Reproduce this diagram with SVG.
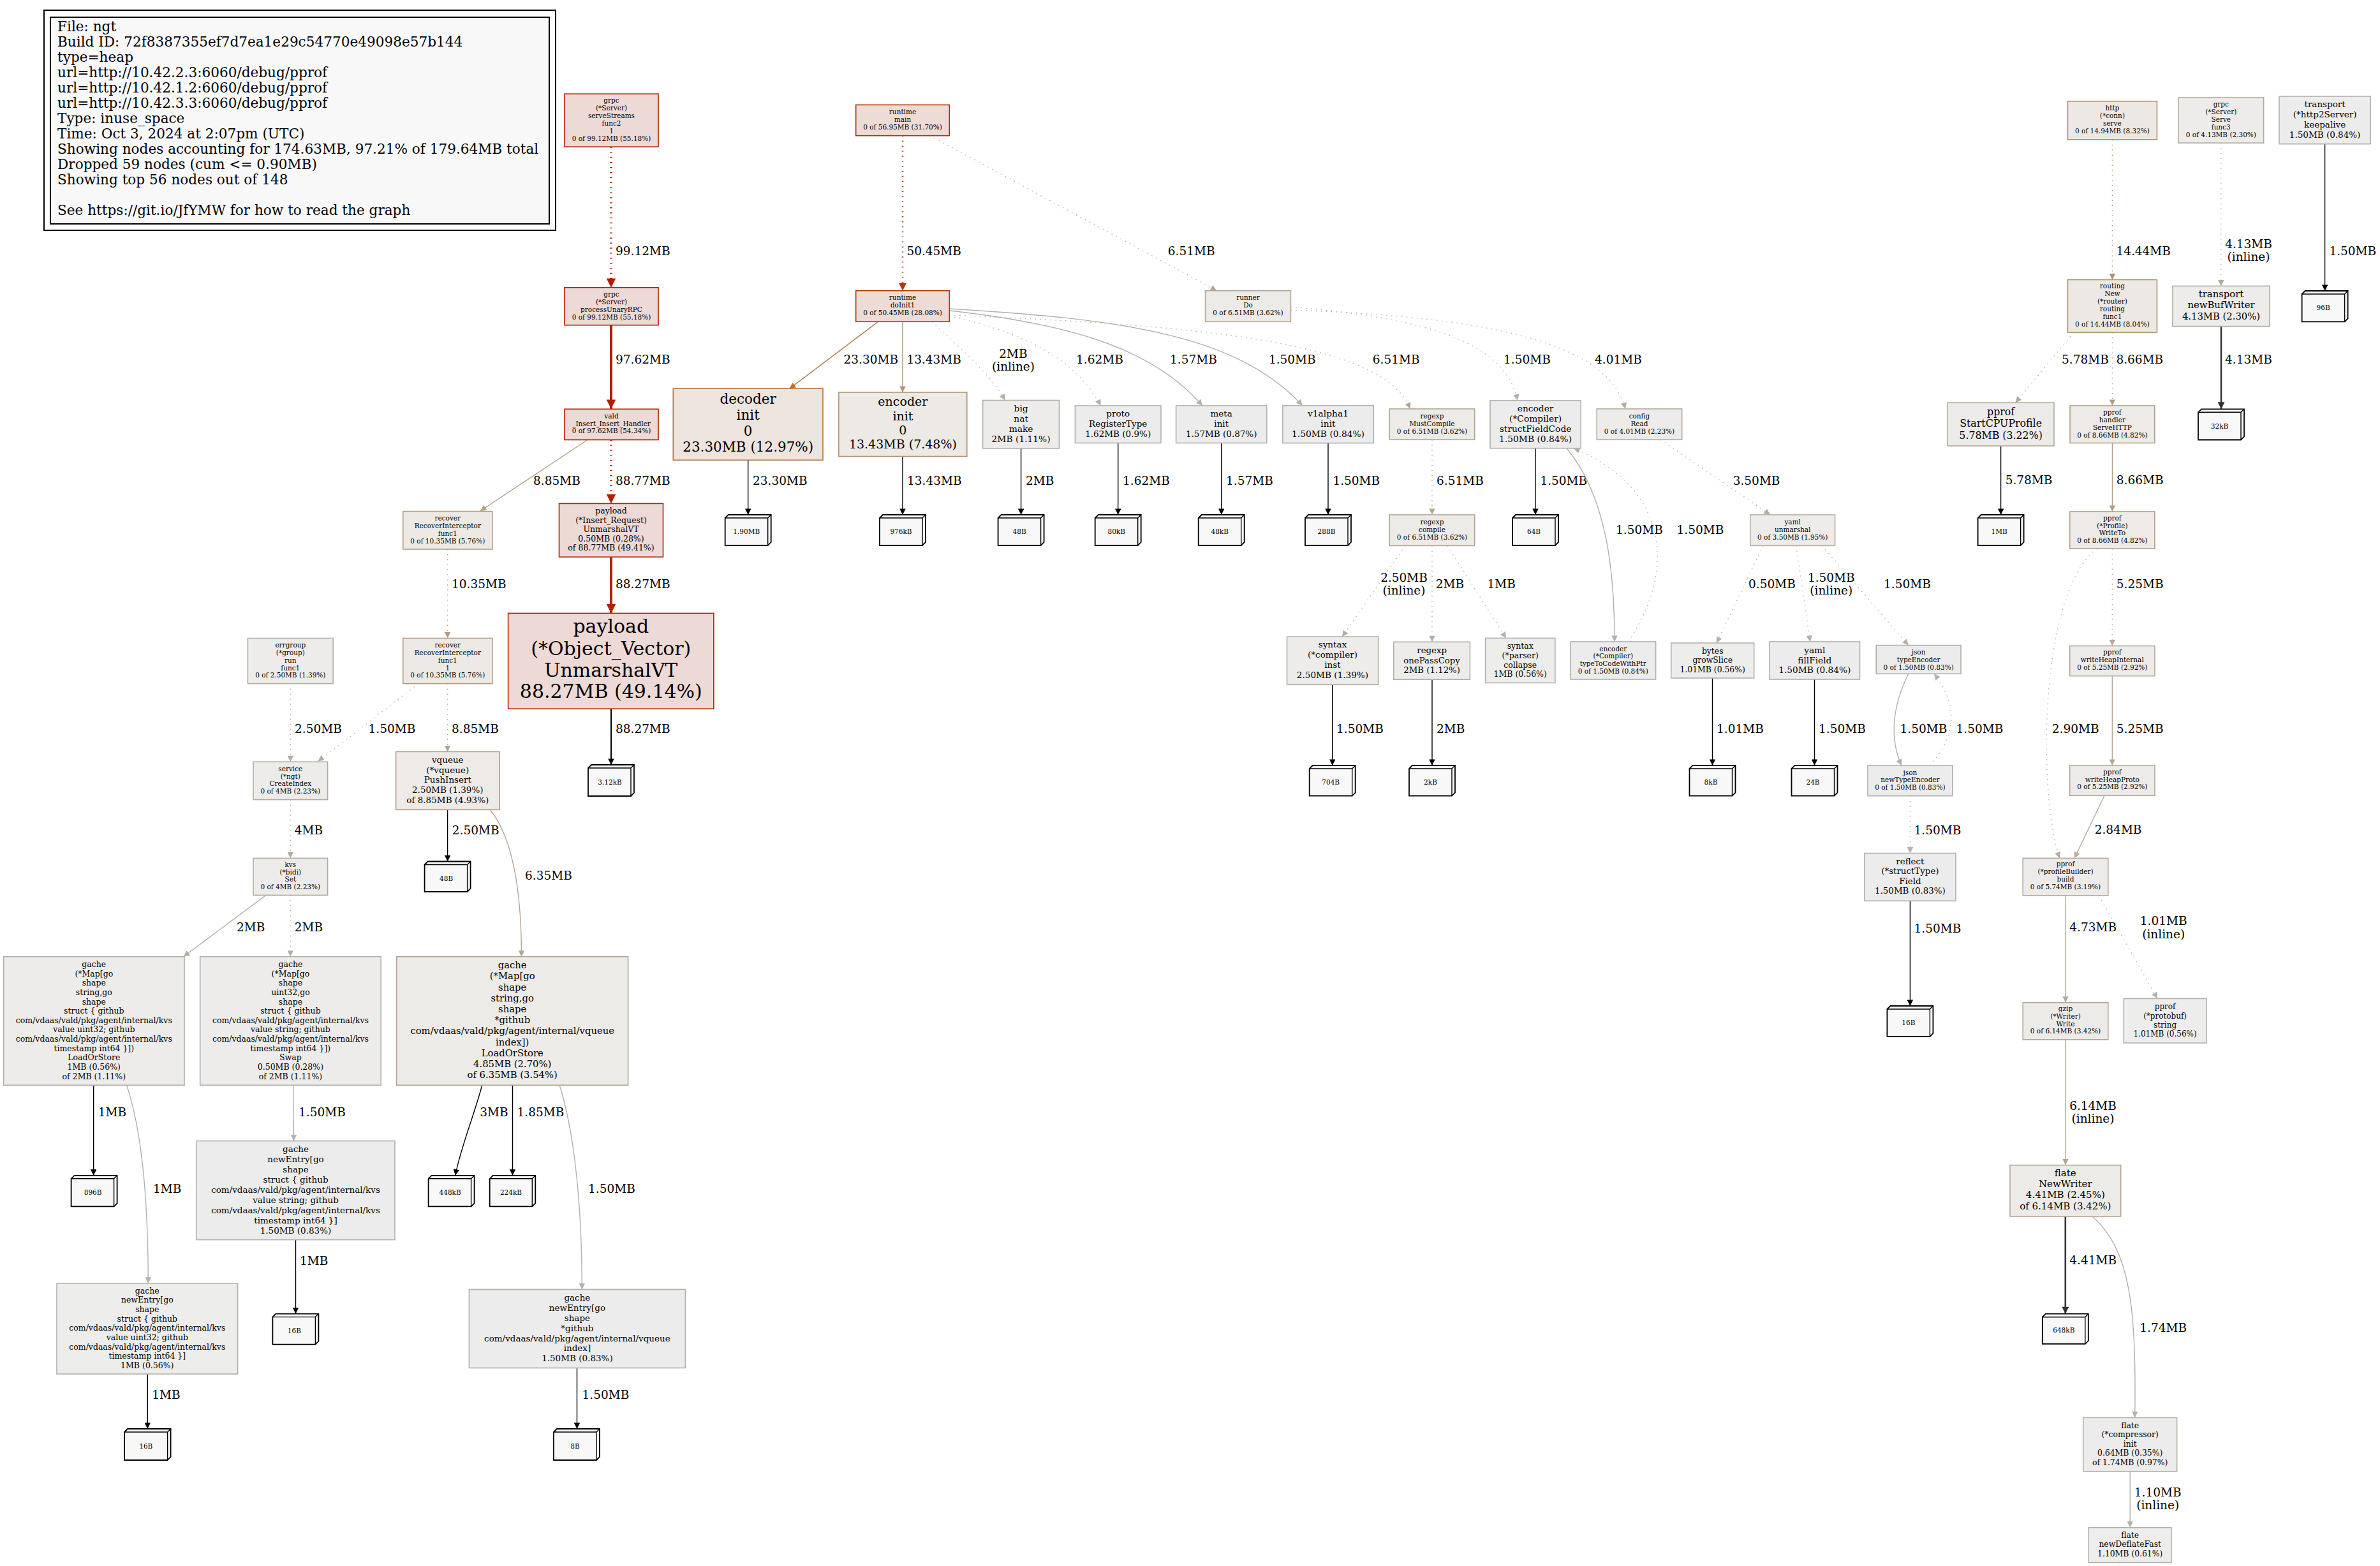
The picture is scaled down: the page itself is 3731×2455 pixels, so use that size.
<svg xmlns="http://www.w3.org/2000/svg" width="3731" height="2455" viewBox="0 0 3731 2455">
<style>
text{font-family:'DejaVu Serif','Liberation Serif',serif;fill:#000}
.node text{text-anchor:middle}
.node rect{stroke-width:1.6}
.lg{font-size:21.6px}
.s{font-size:10.5px}
.el{font-size:18.5px}
.elc{font-size:18.5px;text-anchor:middle}
.edges path{fill:none;stroke-width:1.4}
.d{stroke-dasharray:1.4 6.5}
.b3 polygon{fill:#f8f8f8;stroke:#000;stroke-width:1.8}
.b3 path{fill:none;stroke:#000;stroke-width:1.4}
.b3 text{font-size:10.5px;text-anchor:middle}
.edges .r1{stroke:#b21d00;marker-end:url(#a-r1)}
.edges .r2{stroke:#b22200;marker-end:url(#a-r2)}
.edges .or{stroke:#b23800;marker-end:url(#a-or)}
.edges .dc{stroke:#b2733e;marker-end:url(#a-dc)}
.edges .en{stroke:#b2936f;marker-end:url(#a-en)}
.edges .t1{stroke:#b2906a;marker-end:url(#a-t1)}
.edges .t2{stroke:#b29c7f;marker-end:url(#a-t2)}
.edges .t3{stroke:#b2a086;marker-end:url(#a-t3)}
.edges .t4{stroke:#b2a794;marker-end:url(#a-t4)}
.edges .t5{stroke:#b2a998;marker-end:url(#a-t5)}
.edges .t6{stroke:#b2ab9d;marker-end:url(#a-t6)}
.edges .t7{stroke:#b2ac9e;marker-end:url(#a-t7)}
.edges .g1{stroke:#b2aea4;marker-end:url(#a-g1)}
.edges .g2{stroke:#b2b0ab;marker-end:url(#a-g2)}
.edges .g3{stroke:#b2b1ad;marker-end:url(#a-g3)}
.edges .bk{stroke:#000;marker-end:url(#a-bk)}
.edges .dk{stroke:#333;stroke-width:2.6;marker-end:url(#a-dk)}
.edges .w4{stroke-width:4}
.edges .w3{stroke-width:2.6}
.edges .w2{stroke-width:2}
</style>
<defs>
<marker id="a-r1" viewBox="0 0 10 10" refX="10" refY="5" markerUnits="userSpaceOnUse" markerWidth="17" markerHeight="14.5" orient="auto"><path d="M0,0L10,5L0,10z" fill="#b21d00"/></marker>
<marker id="a-r2" viewBox="0 0 10 10" refX="10" refY="5" markerUnits="userSpaceOnUse" markerWidth="17" markerHeight="14.5" orient="auto"><path d="M0,0L10,5L0,10z" fill="#b22200"/></marker>
<marker id="a-or" viewBox="0 0 10 10" refX="10" refY="5" markerUnits="userSpaceOnUse" markerWidth="15" markerHeight="12" orient="auto"><path d="M0,0L10,5L0,10z" fill="#b23800"/></marker>
<marker id="a-dc" viewBox="0 0 10 10" refX="10" refY="5" markerUnits="userSpaceOnUse" markerWidth="13" markerHeight="9.5" orient="auto"><path d="M0,0L10,5L0,10z" fill="#b2733e"/></marker>
<marker id="a-en" viewBox="0 0 10 10" refX="10" refY="5" markerUnits="userSpaceOnUse" markerWidth="13" markerHeight="9.5" orient="auto"><path d="M0,0L10,5L0,10z" fill="#b2936f"/></marker>
<marker id="a-t1" viewBox="0 0 10 10" refX="10" refY="5" markerUnits="userSpaceOnUse" markerWidth="13" markerHeight="9.5" orient="auto"><path d="M0,0L10,5L0,10z" fill="#b2906a"/></marker>
<marker id="a-t2" viewBox="0 0 10 10" refX="10" refY="5" markerUnits="userSpaceOnUse" markerWidth="13" markerHeight="9.5" orient="auto"><path d="M0,0L10,5L0,10z" fill="#b29c7f"/></marker>
<marker id="a-t3" viewBox="0 0 10 10" refX="10" refY="5" markerUnits="userSpaceOnUse" markerWidth="13" markerHeight="9.5" orient="auto"><path d="M0,0L10,5L0,10z" fill="#b2a086"/></marker>
<marker id="a-t4" viewBox="0 0 10 10" refX="10" refY="5" markerUnits="userSpaceOnUse" markerWidth="13" markerHeight="9.5" orient="auto"><path d="M0,0L10,5L0,10z" fill="#b2a794"/></marker>
<marker id="a-t5" viewBox="0 0 10 10" refX="10" refY="5" markerUnits="userSpaceOnUse" markerWidth="13" markerHeight="9.5" orient="auto"><path d="M0,0L10,5L0,10z" fill="#b2a998"/></marker>
<marker id="a-t6" viewBox="0 0 10 10" refX="10" refY="5" markerUnits="userSpaceOnUse" markerWidth="13" markerHeight="9.5" orient="auto"><path d="M0,0L10,5L0,10z" fill="#b2ab9d"/></marker>
<marker id="a-t7" viewBox="0 0 10 10" refX="10" refY="5" markerUnits="userSpaceOnUse" markerWidth="13" markerHeight="9.5" orient="auto"><path d="M0,0L10,5L0,10z" fill="#b2ac9e"/></marker>
<marker id="a-g1" viewBox="0 0 10 10" refX="10" refY="5" markerUnits="userSpaceOnUse" markerWidth="13" markerHeight="9.5" orient="auto"><path d="M0,0L10,5L0,10z" fill="#b2aea4"/></marker>
<marker id="a-g2" viewBox="0 0 10 10" refX="10" refY="5" markerUnits="userSpaceOnUse" markerWidth="13" markerHeight="9.5" orient="auto"><path d="M0,0L10,5L0,10z" fill="#b2b0ab"/></marker>
<marker id="a-g3" viewBox="0 0 10 10" refX="10" refY="5" markerUnits="userSpaceOnUse" markerWidth="13" markerHeight="9.5" orient="auto"><path d="M0,0L10,5L0,10z" fill="#b2b1ad"/></marker>
<marker id="a-bk" viewBox="0 0 10 10" refX="10" refY="5" markerUnits="userSpaceOnUse" markerWidth="13" markerHeight="9.5" orient="auto"><path d="M0,0L10,5L0,10z" fill="#000"/></marker>
<marker id="a-dk" viewBox="0 0 10 10" refX="10" refY="5" markerUnits="userSpaceOnUse" markerWidth="15" markerHeight="11" orient="auto"><path d="M0,0L10,5L0,10z" fill="#333"/></marker>
</defs>
<rect width="3731" height="2455" fill="#fff"/>

<g id="legend">
<rect x="69" y="16" width="802" height="345" fill="none" stroke="#000" stroke-width="2"/>
<rect x="79" y="27" width="782" height="324" fill="#f8f8f8" stroke="#000" stroke-width="2"/>
<text class="lg" x="90"><tspan x="90" y="49">File: ngt</tspan><tspan x="90" y="73">Build ID: 72f8387355ef7d7ea1e29c54770e49098e57b144</tspan><tspan x="90" y="97">type=heap</tspan><tspan x="90" y="121">url=http://10.42.2.3:6060/debug/pprof</tspan><tspan x="90" y="145">url=http://10.42.1.2:6060/debug/pprof</tspan><tspan x="90" y="169">url=http://10.42.3.3:6060/debug/pprof</tspan><tspan x="90" y="193">Type: inuse_space</tspan><tspan x="90" y="217">Time: Oct 3, 2024 at 2:07pm (UTC)</tspan><tspan x="90" y="241">Showing nodes accounting for 174.63MB, 97.21% of 179.64MB total</tspan><tspan x="90" y="265">Dropped 59 nodes (cum &lt;= 0.90MB)</tspan><tspan x="90" y="289">Showing top 56 nodes out of 148</tspan><tspan x="90" y="337">See https://git.io/JfYMW for how to read the graph</tspan></text>
</g>

<g id="edges" class="edges">
<path class="r1 w4 d" d="M958,230.3L958,451"/>
<text class="el" x="965" y="399.5">99.12MB</text>
<path class="r1 w4" d="M958,509.6L958,641"/>
<text class="el" x="965" y="570">97.62MB</text>
<path class="t3" d="M921,689.5L753,801"/>
<text class="el" x="836" y="759.5">8.85MB</text>
<path class="r2 w4 d" d="M958,689.5L958,789.4"/>
<text class="el" x="965" y="759.5">88.77MB</text>
<path class="r2 w4" d="M958,873.2L958,961.4"/>
<text class="el" x="965" y="922">88.27MB</text>
<path class="bk w2" d="M958,1111.2L958,1199"/>
<text class="el" x="965" y="1149.4">88.27MB</text>
<path class="t2 d" d="M701.6,861L701.6,1000.5"/>
<text class="el" x="708" y="922">10.35MB</text>
<path class="g1 d" d="M455.3,1071.7L455.3,1194.3"/>
<text class="el" x="462" y="1149.4">2.50MB</text>
<path class="g2 d" d="M656,1071.7L498.5,1193.5"/>
<text class="el" x="577.5" y="1149.4">1.50MB</text>
<path class="t3 d" d="M701.6,1071.7L701.6,1178.4"/>
<text class="el" x="708" y="1149.4">8.85MB</text>
<path class="bk" d="M701.6,1269.4L701.6,1350.5"/>
<text class="el" x="708.8" y="1308">2.50MB</text>
<path class="t4" d="M768.4,1269.5C805,1315 817.5,1400 817.5,1499.7"/>
<text class="el" x="823" y="1379">6.35MB</text>
<path class="t7 d" d="M455.3,1253.6L455.3,1345.4"/>
<text class="el" x="461.8" y="1308">4MB</text>
<path class="g1" d="M416.8,1403.4L287.7,1499.7"/>
<text class="el" x="371" y="1460">2MB</text>
<path class="g1 d" d="M455.3,1403.4L455.3,1499.7"/>
<text class="el" x="461.8" y="1460">2MB</text>
<path class="bk" d="M146.7,1701.2L146.7,1842.8"/>
<text class="el" x="153.7" y="1749.8">1MB</text>
<path class="g3" d="M198.6,1701.2C225,1780 232.3,1900 232.3,2011.8"/>
<text class="el" x="240" y="1870.4">1MB</text>
<path class="g2" d="M459.6,1701.2L460.5,1788.6"/>
<text class="el" x="468" y="1749.8">1.50MB</text>
<path class="bk" d="M463.5,1943.6L463.5,2059.6"/>
<text class="el" x="470" y="1982.5">1MB</text>
<path class="bk" d="M755.8,1701.2C742,1752 722,1800 713.7,1842.8"/>
<text class="el" x="752.3" y="1749.8">3MB</text>
<path class="bk" d="M803.5,1701.2L803.5,1842.8"/>
<text class="el" x="810.5" y="1749.8">1.85MB</text>
<path class="g2" d="M877.2,1701.2C902,1780 912.3,1900 912.3,2021.4"/>
<text class="el" x="922" y="1870.4">1.50MB</text>
<path class="bk" d="M231.3,2154L231.3,2240"/>
<text class="el" x="238.3" y="2193">1MB</text>
<path class="bk" d="M904.5,2144.5L904.5,2240"/>
<text class="el" x="912.6" y="2193">1.50MB</text>
<path class="or w3 d" d="M1415,212.7L1415,455.7"/>
<text class="el" x="1421.4" y="399.8">50.45MB</text>
<path class="t4 d" d="M1457.7,212.7L1907.3,455.7"/>
<text class="el" x="1830.8" y="399.8">6.51MB</text>
<path class="dc" d="M1376.7,504.3L1237.7,609.2"/>
<text class="el" x="1322.5" y="570">23.30MB</text>
<path class="en" d="M1415,504.3L1415,615"/>
<text class="el" x="1421.4" y="570">13.43MB</text>
<path class="g1 d" d="M1461,504.3C1505,545 1555,590 1575.7,627.5"/>
<text class="elc" x="1588.5" y="560.5">2MB</text>
<text class="elc" x="1588.5" y="580.5">(inline)</text>
<path class="g2 d" d="M1488.3,495.5C1600,520 1685,560 1725.6,636"/>
<text class="el" x="1687" y="570">1.62MB</text>
<path class="g2" d="M1488.3,487C1700,510 1815,555 1885,636"/>
<text class="el" x="1834" y="570">1.57MB</text>
<path class="g2" d="M1488.3,484C1760,500 1940,525 2041.7,635.7"/>
<text class="el" x="1988.9" y="570">1.50MB</text>
<path class="t4 d" d="M1488.3,494C1880,510 2170,535 2210.5,641"/>
<text class="el" x="2151.8" y="570">6.51MB</text>
<path class="g2 d" d="M2023.4,481C2250,500 2360,540 2379,627.7"/>
<text class="el" x="2357" y="570">1.50MB</text>
<path class="t7 d" d="M2023.4,486C2350,497 2520,540 2548,641"/>
<text class="el" x="2500" y="570">4.01MB</text>
<path class="bk" d="M1172.7,721.3L1172.7,807"/>
<text class="el" x="1180" y="760">23.30MB</text>
<path class="bk" d="M1415,715.5L1415,807"/>
<text class="el" x="1422" y="760">13.43MB</text>
<path class="bk" d="M1600.6,702.9L1600.6,807"/>
<text class="el" x="1608" y="760">2MB</text>
<path class="bk" d="M1752.7,694.5L1752.7,807"/>
<text class="el" x="1760" y="760">1.62MB</text>
<path class="bk" d="M1914.7,694.5L1914.7,807"/>
<text class="el" x="1922" y="760">1.57MB</text>
<path class="bk" d="M2082,694.6L2082,807"/>
<text class="el" x="2089.4" y="760">1.50MB</text>
<path class="t4 d" d="M2245,689.3L2245,807"/>
<text class="el" x="2252" y="760">6.51MB</text>
<path class="bk" d="M2407,702.7L2407,807"/>
<text class="el" x="2414.4" y="760">1.50MB</text>
<path class="g2" d="M2456,702.7C2520,780 2531,900 2531,1006"/>
<text class="el" x="2533" y="836.5">1.50MB</text>
<path class="g2 d" d="M2553,1006C2635,880 2605,760 2467,702.7"/>
<text class="el" x="2628.6" y="836.5">1.50MB</text>
<path class="t7 d" d="M2603,689.3L2775,807"/>
<text class="el" x="2716.7" y="760">3.50MB</text>
<path class="g1 d" d="M2203,855.4L2104,998.2"/>
<text class="elc" x="2201" y="912.3">2.50MB</text>
<text class="elc" x="2201" y="932.4">(inline)</text>
<path class="g1 d" d="M2245,855.4L2245,1006.3"/>
<text class="el" x="2250.8" y="922">2MB</text>
<path class="g3 d" d="M2269,855.4L2361,1000.4"/>
<text class="el" x="2331.5" y="922">1MB</text>
<path class="g3 d" d="M2764,855.4L2691,1008"/>
<text class="el" x="2741" y="922">0.50MB</text>
<path class="g2 d" d="M2815.7,855.4L2837.7,1006"/>
<text class="elc" x="2870.8" y="912.3">1.50MB</text>
<text class="elc" x="2870.8" y="932.4">(inline)</text>
<path class="g2 d" d="M2856,855.4L2991.8,1011.6"/>
<text class="el" x="2953" y="922">1.50MB</text>
<path class="bk" d="M2088.7,1073.2L2088.7,1200"/>
<text class="el" x="2095" y="1149.3">1.50MB</text>
<path class="bk" d="M2245,1065.2L2245,1200"/>
<text class="el" x="2252" y="1149.3">2MB</text>
<path class="bk" d="M2684.5,1063L2684.5,1200"/>
<text class="el" x="2691" y="1149.3">1.01MB</text>
<path class="bk" d="M2844.5,1065L2844.5,1200"/>
<text class="el" x="2851" y="1149.3">1.50MB</text>
<path class="g2" d="M2991.8,1056.3C2965,1110 2963,1160 2980.8,1200"/>
<text class="el" x="2978.6" y="1149.3">1.50MB</text>
<path class="g2 d" d="M3024.8,1200C3072,1150 3066,1100 3032,1056.3"/>
<text class="el" x="3066.6" y="1149.3">1.50MB</text>
<path class="g2 d" d="M2994.4,1247.7L2994.4,1337.6"/>
<text class="el" x="3000.6" y="1308">1.50MB</text>
<path class="bk" d="M2994.4,1412.3L2994.4,1577"/>
<text class="el" x="3000.6" y="1461.5">1.50MB</text>
<path class="t1 d" d="M3311.4,218.8L3311.4,438.5"/>
<text class="el" x="3317.4" y="399.8">14.44MB</text>
<path class="t6 d" d="M3481.8,224.1L3481.8,448.4"/>
<text class="elc" x="3525" y="389">4.13MB</text>
<text class="elc" x="3525" y="409.4">(inline)</text>
<path class="bk" d="M3644.6,225.7L3644.6,456"/>
<text class="el" x="3651.4" y="399.8">1.50MB</text>
<path class="dk" d="M3482,511.6L3482,641.3"/>
<text class="el" x="3488" y="570">4.13MB</text>
<path class="t4 d" d="M3251,521L3159.6,631.3"/>
<text class="el" x="3232" y="570">5.78MB</text>
<path class="t3 d" d="M3311.4,521L3311.4,636"/>
<text class="el" x="3317.4" y="570">8.66MB</text>
<path class="bk" d="M3136.6,699L3136.6,807"/>
<text class="el" x="3143.7" y="759.4">5.78MB</text>
<path class="t3" d="M3311.4,694.5L3311.4,802"/>
<text class="el" x="3317.8" y="759.4">8.66MB</text>
<path class="t5 d" d="M3311.3,860L3311.3,1012.5"/>
<text class="el" x="3317.8" y="921.5">5.25MB</text>
<path class="t5" d="M3311.3,1059.7L3311.3,1200"/>
<text class="el" x="3317.8" y="1148.5">5.25MB</text>
<path class="g1" d="M3299,1247.2L3252,1345.4"/>
<text class="el" x="3283.7" y="1307.3">2.84MB</text>
<path class="g1 d" d="M3287.2,860C3195,930 3195,1250 3229,1345.4"/>
<text class="el" x="3216.8" y="1148.5">2.90MB</text>
<path class="t6" d="M3238,1404L3238,1571.8"/>
<text class="el" x="3244.3" y="1460.3">4.73MB</text>
<path class="g3 d" d="M3290.2,1404L3382,1565.4"/>
<text class="elc" x="3391.7" y="1450">1.01MB</text>
<text class="elc" x="3391.7" y="1470.5">(inline)</text>
<path class="t4" d="M3238,1629.8L3238,1826.6"/>
<text class="elc" x="3281" y="1740.2">6.14MB</text>
<text class="elc" x="3281" y="1760.4">(inline)</text>
<path class="dk" d="M3237.8,1907L3237.8,2059.7"/>
<text class="el" x="3244.3" y="1982.4">4.41MB</text>
<path class="g2" d="M3280,1907C3340,1960 3349,2050 3346.7,2222.4"/>
<text class="el" x="3354.3" y="2087.8">1.74MB</text>
<path class="g3" d="M3339.2,2306.7L3339.2,2394.8"/>
<text class="elc" x="3382.7" y="2345.9">1.10MB</text>
<text class="elc" x="3382.7" y="2366.1">(inline)</text>
</g>

<g id="N1" class="node"><rect x="885" y="147.2" width="147" height="83" fill="#edd9d5" stroke="#b21d00"/><text class="s"><tspan x="958.5" y="161.3">grpc</tspan><tspan x="958.5" y="173.2">(*Server)</tspan><tspan x="958.5" y="185.2">serveStreams</tspan><tspan x="958.5" y="197.1">func2</tspan><tspan x="958.5" y="209.1">1</tspan><tspan x="958.5" y="221">0 of 99.12MB (55.18%)</tspan></text></g>
<g id="N2" class="node"><rect x="885" y="450.7" width="147" height="59" fill="#edd9d5" stroke="#b21d00"/><text class="s"><tspan x="958.5" y="465">grpc</tspan><tspan x="958.5" y="476.8">(*Server)</tspan><tspan x="958.5" y="488.7">processUnaryRPC</tspan><tspan x="958.5" y="500.6">0 of 99.12MB (55.18%)</tspan></text></g>
<g id="N3" class="node"><rect x="885" y="641.3" width="147" height="48.2" fill="#edd9d5" stroke="#b21d00"/><text class="s"><tspan x="958.5" y="655.6">vald</tspan><tspan x="958.5" y="667.5">_Insert_Insert_Handler</tspan><tspan x="958.5" y="679.4">0 of 97.62MB (54.34%)</tspan></text></g>
<g id="N4" class="node"><rect x="876.5" y="789.4" width="163" height="83.8" fill="#edd9d5" stroke="#b22200"/><text font-size="12.5"><tspan x="958" y="805">payload</tspan><tspan x="958" y="819.6">(*Insert_Request)</tspan><tspan x="958" y="834.2">UnmarshalVT</tspan><tspan x="958" y="848.8">0.50MB (0.28%)</tspan><tspan x="958" y="863.4">of 88.77MB (49.41%)</tspan></text></g>
<g id="N5" class="node"><rect x="796.6" y="961.4" width="322.3" height="149.8" fill="#edd9d5" stroke="#b22200"/><text font-size="30"><tspan x="957.8" y="992">payload</tspan><tspan x="957.8" y="1026.5">(*Object_Vector)</tspan><tspan x="957.8" y="1060.5">UnmarshalVT</tspan><tspan x="957.8" y="1094">88.27MB (49.14%)</tspan></text></g>
<g id="N7" class="node"><rect x="631.8" y="801.6" width="140" height="59.4" fill="#edeae6" stroke="#b29c7f"/><text class="s"><tspan x="701.8" y="816">recover</tspan><tspan x="701.8" y="827.9">RecoverInterceptor</tspan><tspan x="701.8" y="839.8">func1</tspan><tspan x="701.8" y="851.7">0 of 10.35MB (5.76%)</tspan></text></g>
<g id="N8" class="node"><rect x="631.8" y="1000.5" width="140" height="71.2" fill="#edeae6" stroke="#b29c7f"/><text class="s"><tspan x="701.8" y="1014.8">recover</tspan><tspan x="701.8" y="1026.7">RecoverInterceptor</tspan><tspan x="701.8" y="1038.6">func1</tspan><tspan x="701.8" y="1050.5">1</tspan><tspan x="701.8" y="1062.4">0 of 10.35MB (5.76%)</tspan></text></g>
<g id="N9" class="node"><rect x="388.4" y="1000.5" width="133.8" height="71.2" fill="#edeceb" stroke="#b2afa6"/><text class="s"><tspan x="455.3" y="1014.8">errgroup</tspan><tspan x="455.3" y="1026.7">(*group)</tspan><tspan x="455.3" y="1038.6">run</tspan><tspan x="455.3" y="1050.5">func1</tspan><tspan x="455.3" y="1062.4">0 of 2.50MB (1.39%)</tspan></text></g>
<g id="N10" class="node"><rect x="397" y="1194.3" width="116.6" height="59.3" fill="#edecea" stroke="#b2ac9e"/><text class="s"><tspan x="455.3" y="1208.6">service</tspan><tspan x="455.3" y="1220.5">(*ngt)</tspan><tspan x="455.3" y="1232.4">CreateIndex</tspan><tspan x="455.3" y="1244.3">0 of 4MB (2.23%)</tspan></text></g>
<g id="N11" class="node"><rect x="397" y="1345.4" width="116.6" height="58" fill="#edecea" stroke="#b2ac9e"/><text class="s"><tspan x="455.3" y="1358.6">kvs</tspan><tspan x="455.3" y="1370.5">(*bidi)</tspan><tspan x="455.3" y="1382.4">Set</tspan><tspan x="455.3" y="1394.3">0 of 4MB (2.23%)</tspan></text></g>
<g id="N12" class="node"><rect x="620.6" y="1178.4" width="162.4" height="91" fill="#edeae7" stroke="#b2a086"/><text font-size="13.5"><tspan x="701.8" y="1195.6">vqueue</tspan><tspan x="701.8" y="1211.5">(*vqueue)</tspan><tspan x="701.8" y="1227.4">PushInsert</tspan><tspan x="701.8" y="1243.3">2.50MB (1.39%)</tspan><tspan x="701.8" y="1259.2">of 8.85MB (4.93%)</tspan></text></g>
<g id="N14" class="node"><rect x="5.6" y="1499.7" width="283.4" height="201.5" fill="#edeceb" stroke="#b2afa8"/><text font-size="12.5"><tspan x="147.3" y="1516.1">gache</tspan><tspan x="147.3" y="1530.7">(*Map[go</tspan><tspan x="147.3" y="1545.3">shape</tspan><tspan x="147.3" y="1560">string,go</tspan><tspan x="147.3" y="1574.6">shape</tspan><tspan x="147.3" y="1589.2">struct { github</tspan><tspan x="147.3" y="1603.8">com/vdaas/vald/pkg/agent/internal/kvs</tspan><tspan x="147.3" y="1618.4">value uint32; github</tspan><tspan x="147.3" y="1633">com/vdaas/vald/pkg/agent/internal/kvs</tspan><tspan x="147.3" y="1647.7">timestamp int64 }])</tspan><tspan x="147.3" y="1662.3">LoadOrStore</tspan><tspan x="147.3" y="1676.9">1MB (0.56%)</tspan><tspan x="147.3" y="1691.5">of 2MB (1.11%)</tspan></text></g>
<g id="N15" class="node"><rect x="313.7" y="1499.7" width="283.5" height="201.5" fill="#edeceb" stroke="#b2afa8"/><text font-size="12.5"><tspan x="455.4" y="1516.1">gache</tspan><tspan x="455.4" y="1530.7">(*Map[go</tspan><tspan x="455.4" y="1545.3">shape</tspan><tspan x="455.4" y="1560">uint32,go</tspan><tspan x="455.4" y="1574.6">shape</tspan><tspan x="455.4" y="1589.2">struct { github</tspan><tspan x="455.4" y="1603.8">com/vdaas/vald/pkg/agent/internal/kvs</tspan><tspan x="455.4" y="1618.4">value string; github</tspan><tspan x="455.4" y="1633">com/vdaas/vald/pkg/agent/internal/kvs</tspan><tspan x="455.4" y="1647.7">timestamp int64 }])</tspan><tspan x="455.4" y="1662.3">Swap</tspan><tspan x="455.4" y="1676.9">0.50MB (0.28%)</tspan><tspan x="455.4" y="1691.5">of 2MB (1.11%)</tspan></text></g>
<g id="N16" class="node"><rect x="621.8" y="1499.7" width="362.8" height="201.5" fill="#edebe8" stroke="#b2a693"/><text font-size="14.8"><tspan x="803.2" y="1518.1">gache</tspan><tspan x="803.2" y="1535.3">(*Map[go</tspan><tspan x="803.2" y="1552.5">shape</tspan><tspan x="803.2" y="1569.8">string,go</tspan><tspan x="803.2" y="1587">shape</tspan><tspan x="803.2" y="1604.2">*github</tspan><tspan x="803.2" y="1621.4">com/vdaas/vald/pkg/agent/internal/vqueue</tspan><tspan x="803.2" y="1638.6">index])</tspan><tspan x="803.2" y="1655.9">LoadOrStore</tspan><tspan x="803.2" y="1673.1">4.85MB (2.70%)</tspan><tspan x="803.2" y="1690.3">of 6.35MB (3.54%)</tspan></text></g>
<g id="N18" class="node"><rect x="89" y="2011.8" width="283.6" height="142.2" fill="#ededec" stroke="#b2b1ad"/><text font-size="12.5"><tspan x="230.8" y="2027.6">gache</tspan><tspan x="230.8" y="2042.3">newEntry[go</tspan><tspan x="230.8" y="2056.9">shape</tspan><tspan x="230.8" y="2071.6">struct { github</tspan><tspan x="230.8" y="2086.3">com/vdaas/vald/pkg/agent/internal/kvs</tspan><tspan x="230.8" y="2100.9">value uint32; github</tspan><tspan x="230.8" y="2115.6">com/vdaas/vald/pkg/agent/internal/kvs</tspan><tspan x="230.8" y="2130.3">timestamp int64 }]</tspan><tspan x="230.8" y="2145">1MB (0.56%)</tspan></text></g>
<g id="N19" class="node"><rect x="308" y="1788.6" width="311" height="155" fill="#edecec" stroke="#b2b0ab"/><text font-size="13.5"><tspan x="463.5" y="1806">gache</tspan><tspan x="463.5" y="1821.9">newEntry[go</tspan><tspan x="463.5" y="1837.9">shape</tspan><tspan x="463.5" y="1853.8">struct { github</tspan><tspan x="463.5" y="1869.8">com/vdaas/vald/pkg/agent/internal/kvs</tspan><tspan x="463.5" y="1885.7">value string; github</tspan><tspan x="463.5" y="1901.6">com/vdaas/vald/pkg/agent/internal/kvs</tspan><tspan x="463.5" y="1917.6">timestamp int64 }]</tspan><tspan x="463.5" y="1933.5">1.50MB (0.83%)</tspan></text></g>
<g id="N23" class="node"><rect x="735.4" y="2021.4" width="339" height="123.1" fill="#edecec" stroke="#b2b0ab"/><text font-size="13.5"><tspan x="904.9" y="2038.7">gache</tspan><tspan x="904.9" y="2054.6">newEntry[go</tspan><tspan x="904.9" y="2070.6">shape</tspan><tspan x="904.9" y="2086.5">*github</tspan><tspan x="904.9" y="2102.5">com/vdaas/vald/pkg/agent/internal/vqueue</tspan><tspan x="904.9" y="2118.4">index]</tspan><tspan x="904.9" y="2134.3">1.50MB (0.83%)</tspan></text></g>
<g id="N26" class="node"><rect x="1341.7" y="164.4" width="146.6" height="48.3" fill="#eddcd5" stroke="#b23400"/><text class="s"><tspan x="1415" y="178.8">runtime</tspan><tspan x="1415" y="190.8">main</tspan><tspan x="1415" y="202.8">0 of 56.95MB (31.70%)</tspan></text></g>
<g id="N27" class="node"><rect x="1341.7" y="455.7" width="146.6" height="48.6" fill="#eddcd5" stroke="#b23800"/><text class="s"><tspan x="1415" y="470.4">runtime</tspan><tspan x="1415" y="482.2">doInit1</tspan><tspan x="1415" y="494.1">0 of 50.45MB (28.08%)</tspan></text></g>
<g id="N28" class="node"><rect x="1889.5" y="455.7" width="133.9" height="48.6" fill="#edebe8" stroke="#b2a692"/><text class="s"><tspan x="1956.5" y="470.4">runner</tspan><tspan x="1956.5" y="482.2">Do</tspan><tspan x="1956.5" y="494.1">0 of 6.51MB (3.62%)</tspan></text></g>
<g id="N29" class="node"><rect x="1055.3" y="609.2" width="234.7" height="112.1" fill="#ede4dd" stroke="#b2733e"/><text font-size="21.5"><tspan x="1172.7" y="633.1">decoder</tspan><tspan x="1172.7" y="658">init</tspan><tspan x="1172.7" y="682.9">0</tspan><tspan x="1172.7" y="707.7">23.30MB (12.97%)</tspan></text></g>
<g id="N30" class="node"><rect x="1314.9" y="615" width="200.9" height="100.5" fill="#ede9e4" stroke="#b2936f"/><text font-size="19"><tspan x="1415.4" y="636">encoder</tspan><tspan x="1415.4" y="658.5">init</tspan><tspan x="1415.4" y="680.8">0</tspan><tspan x="1415.4" y="703">13.43MB (7.48%)</tspan></text></g>
<g id="N31" class="node"><rect x="1540.6" y="627.5" width="119.9" height="75.4" fill="#edeceb" stroke="#b2afa8"/><text font-size="13.8"><tspan x="1600.6" y="644.8">big</tspan><tspan x="1600.6" y="661">nat</tspan><tspan x="1600.6" y="677.1">make</tspan><tspan x="1600.6" y="692.8">2MB (1.11%)</tspan></text></g>
<g id="N32" class="node"><rect x="1685.4" y="636" width="134.6" height="58.5" fill="#edecec" stroke="#b2b0aa"/><text font-size="13.5"><tspan x="1752.7" y="653.2">proto</tspan><tspan x="1752.7" y="668.7">RegisterType</tspan><tspan x="1752.7" y="684.6">1.62MB (0.9%)</tspan></text></g>
<g id="N33" class="node"><rect x="1843.6" y="636" width="142.2" height="58.5" fill="#edecec" stroke="#b2b0aa"/><text font-size="13.5"><tspan x="1914.7" y="653.2">meta</tspan><tspan x="1914.7" y="668.7">init</tspan><tspan x="1914.7" y="684.6">1.57MB (0.87%)</tspan></text></g>
<g id="N34" class="node"><rect x="2010.9" y="635.7" width="142.3" height="58.9" fill="#edecec" stroke="#b2b0ab"/><text font-size="13.8"><tspan x="2082" y="652.6">v1alpha1</tspan><tspan x="2082" y="668.6">init</tspan><tspan x="2082" y="684.8">1.50MB (0.84%)</tspan></text></g>
<g id="N35" class="node"><rect x="2178.2" y="641" width="133.5" height="48.3" fill="#edebe8" stroke="#b2a692"/><text class="s"><tspan x="2245" y="655.8">regexp</tspan><tspan x="2245" y="667.6">MustCompile</tspan><tspan x="2245" y="679.5">0 of 6.51MB (3.62%)</tspan></text></g>
<g id="N36" class="node"><rect x="2336" y="627.7" width="142.2" height="75" fill="#edecec" stroke="#b2b0ab"/><text font-size="13.8"><tspan x="2407.1" y="645">encoder</tspan><tspan x="2407.1" y="660.8">(*Compiler)</tspan><tspan x="2407.1" y="676.7">structFieldCode</tspan><tspan x="2407.1" y="692.6">1.50MB (0.84%)</tspan></text></g>
<g id="N37" class="node"><rect x="2503.2" y="641" width="133.5" height="48.3" fill="#edecea" stroke="#b2ac9e"/><text class="s"><tspan x="2570" y="655.8">config</tspan><tspan x="2570" y="667.6">Read</tspan><tspan x="2570" y="679.5">0 of 4.01MB (2.23%)</tspan></text></g>
<g id="N38" class="node"><rect x="2178.2" y="807" width="133.5" height="48.4" fill="#edebe8" stroke="#b2a692"/><text class="s"><tspan x="2245" y="822.4">regexp</tspan><tspan x="2245" y="834.2">compile</tspan><tspan x="2245" y="846">0 of 6.51MB (3.62%)</tspan></text></g>
<g id="N39" class="node"><rect x="2743.8" y="807" width="132.8" height="48.4" fill="#edecea" stroke="#b2ada1"/><text class="s"><tspan x="2810.2" y="822.4">yaml</tspan><tspan x="2810.2" y="834.2">unmarshal</tspan><tspan x="2810.2" y="846">0 of 3.50MB (1.95%)</tspan></text></g>
<g id="N40" class="node"><rect x="2017.5" y="998.2" width="143.1" height="75" fill="#edeceb" stroke="#b2afa6"/><text font-size="13.6"><tspan x="2089" y="1015.4">syntax</tspan><tspan x="2089" y="1031.3">(*compiler)</tspan><tspan x="2089" y="1047.2">inst</tspan><tspan x="2089" y="1063.1">2.50MB (1.39%)</tspan></text></g>
<g id="N41" class="node"><rect x="2184.8" y="1006.3" width="119.6" height="58.9" fill="#edeceb" stroke="#b2afa8"/><text font-size="13.3"><tspan x="2244.6" y="1024.2">regexp</tspan><tspan x="2244.6" y="1039.5">onePassCopy</tspan><tspan x="2244.6" y="1055">2MB (1.12%)</tspan></text></g>
<g id="N42" class="node"><rect x="2328.6" y="1000.4" width="109.3" height="70.1" fill="#ededec" stroke="#b2b1ad"/><text font-size="12.5"><tspan x="2383.2" y="1017.3">syntax</tspan><tspan x="2383.2" y="1031.9">(*parser)</tspan><tspan x="2383.2" y="1046.5">collapse</tspan><tspan x="2383.2" y="1061.1">1MB (0.56%)</tspan></text></g>
<g id="N43" class="node"><rect x="2462" y="1006" width="133.6" height="59" fill="#edecec" stroke="#b2b0ab"/><text class="s"><tspan x="2528.8" y="1020.6">encoder</tspan><tspan x="2528.8" y="1032.4">(*Compiler)</tspan><tspan x="2528.8" y="1044.3">typeToCodeWithPtr</tspan><tspan x="2528.8" y="1056.2">0 of 1.50MB (0.84%)</tspan></text></g>
<g id="N44" class="node"><rect x="2619.8" y="1008" width="129.9" height="55" fill="#ededec" stroke="#b2b1ad"/><text font-size="12.4"><tspan x="2684.7" y="1024.8">bytes</tspan><tspan x="2684.7" y="1039.2">growSlice</tspan><tspan x="2684.7" y="1053.6">1.01MB (0.56%)</tspan></text></g>
<g id="N45" class="node"><rect x="2774" y="1006" width="141.5" height="59" fill="#edecec" stroke="#b2b0ab"/><text font-size="13.7"><tspan x="2844.8" y="1023.7">yaml</tspan><tspan x="2844.8" y="1039.5">fillField</tspan><tspan x="2844.8" y="1055.4">1.50MB (0.84%)</tspan></text></g>
<g id="N46" class="node"><rect x="2941.2" y="1011.6" width="132.8" height="44.7" fill="#edecec" stroke="#b2b0ab"/><text class="s"><tspan x="3007.6" y="1026.4">json</tspan><tspan x="3007.6" y="1038.2">typeEncoder</tspan><tspan x="3007.6" y="1050">0 of 1.50MB (0.83%)</tspan></text></g>
<g id="N51" class="node"><rect x="2928" y="1200" width="132.8" height="47.7" fill="#edecec" stroke="#b2b0ab"/><text class="s"><tspan x="2994.4" y="1214.8">json</tspan><tspan x="2994.4" y="1226.4">newTypeEncoder</tspan><tspan x="2994.4" y="1238">0 of 1.50MB (0.83%)</tspan></text></g>
<g id="N52" class="node"><rect x="2922.9" y="1337.6" width="143" height="74.7" fill="#edecec" stroke="#b2b0ab"/><text font-size="13.4"><tspan x="2994.4" y="1354.6">reflect</tspan><tspan x="2994.4" y="1370.2">(*structType)</tspan><tspan x="2994.4" y="1385.8">Field</tspan><tspan x="2994.4" y="1401.4">1.50MB (0.83%)</tspan></text></g>
<g id="N54" class="node"><rect x="3241.4" y="158.7" width="140" height="60.1" fill="#ede8e3" stroke="#b28f68"/><text class="s"><tspan x="3311.4" y="172.6">http</tspan><tspan x="3311.4" y="184.5">(*conn)</tspan><tspan x="3311.4" y="196.5">serve</tspan><tspan x="3311.4" y="208.5">0 of 14.94MB (8.32%)</tspan></text></g>
<g id="N55" class="node"><rect x="3414.9" y="153" width="133.7" height="71.1" fill="#edecea" stroke="#b2ab9d"/><text class="s"><tspan x="3481.8" y="167.3">grpc</tspan><tspan x="3481.8" y="179.1">(*Server)</tspan><tspan x="3481.8" y="190.9">Serve</tspan><tspan x="3481.8" y="202.7">func3</tspan><tspan x="3481.8" y="214.5">0 of 4.13MB (2.30%)</tspan></text></g>
<g id="N56" class="node"><rect x="3573" y="151" width="143.2" height="74.7" fill="#edecec" stroke="#b2b0ab"/><text font-size="13.5"><tspan x="3644.6" y="168.3">transport</tspan><tspan x="3644.6" y="184.2">(*http2Server)</tspan><tspan x="3644.6" y="200">keepalive</tspan><tspan x="3644.6" y="215.7">1.50MB (0.84%)</tspan></text></g>
<g id="N58" class="node"><rect x="3241.4" y="438.5" width="140" height="82.6" fill="#ede8e3" stroke="#b2906a"/><text class="s"><tspan x="3311.4" y="452.4">routing</tspan><tspan x="3311.4" y="464.3">New</tspan><tspan x="3311.4" y="476.3">(*router)</tspan><tspan x="3311.4" y="488.2">routing</tspan><tspan x="3311.4" y="500.2">func1</tspan><tspan x="3311.4" y="512.1">0 of 14.44MB (8.04%)</tspan></text></g>
<g id="N59" class="node"><rect x="3406" y="448.4" width="152" height="63.2" fill="#edecea" stroke="#b2ab9d"/><text font-size="14.8"><tspan x="3482" y="466.1">transport</tspan><tspan x="3482" y="483.3">newBufWriter</tspan><tspan x="3482" y="500.5">4.13MB (2.30%)</tspan></text></g>
<g id="N61" class="node"><rect x="3053.2" y="631.3" width="166.8" height="67.7" fill="#edebe9" stroke="#b2a895"/><text font-size="15.8"><tspan x="3136.6" y="651">pprof</tspan><tspan x="3136.6" y="669.4">StartCPUProfile</tspan><tspan x="3136.6" y="687.7">5.78MB (3.22%)</tspan></text></g>
<g id="N62" class="node"><rect x="3245" y="636" width="132.8" height="58.5" fill="#edeae7" stroke="#b2a187"/><text class="s"><tspan x="3311.4" y="649.5">pprof</tspan><tspan x="3311.4" y="661.6">handler</tspan><tspan x="3311.4" y="673.6">ServeHTTP</tspan><tspan x="3311.4" y="685.5">0 of 8.66MB (4.82%)</tspan></text></g>
<g id="N64" class="node"><rect x="3244.7" y="802" width="133.2" height="58" fill="#edeae7" stroke="#b2a187"/><text class="s"><tspan x="3311.3" y="815.8">pprof</tspan><tspan x="3311.3" y="827.5">(*Profile)</tspan><tspan x="3311.3" y="839.2">WriteTo</tspan><tspan x="3311.3" y="850.9">0 of 8.66MB (4.82%)</tspan></text></g>
<g id="N65" class="node"><rect x="3244.7" y="1012.5" width="133.2" height="47.2" fill="#edebe9" stroke="#b2a998"/><text class="s"><tspan x="3311.3" y="1026.3">pprof</tspan><tspan x="3311.3" y="1037.9">writeHeapInternal</tspan><tspan x="3311.3" y="1049.5">0 of 5.25MB (2.92%)</tspan></text></g>
<g id="N66" class="node"><rect x="3244.7" y="1200" width="133.2" height="47.2" fill="#edebe9" stroke="#b2a998"/><text class="s"><tspan x="3311.3" y="1213.8">pprof</tspan><tspan x="3311.3" y="1225.5">writeHeapProto</tspan><tspan x="3311.3" y="1237.3">0 of 5.25MB (2.92%)</tspan></text></g>
<g id="N67" class="node"><rect x="3171.2" y="1345.4" width="133.6" height="58.6" fill="#edebe9" stroke="#b2a895"/><text class="s"><tspan x="3238" y="1357.9">pprof</tspan><tspan x="3238" y="1369.9">(*profileBuilder)</tspan><tspan x="3238" y="1381.9">build</tspan><tspan x="3238" y="1393.9">0 of 5.74MB (3.19%)</tspan></text></g>
<g id="N68" class="node"><rect x="3171.2" y="1571.8" width="133.6" height="58" fill="#edebe8" stroke="#b2a794"/><text class="s"><tspan x="3238" y="1585">gzip</tspan><tspan x="3238" y="1596.8">(*Writer)</tspan><tspan x="3238" y="1608.6">Write</tspan><tspan x="3238" y="1620.4">0 of 6.14MB (3.42%)</tspan></text></g>
<g id="N69" class="node"><rect x="3329.3" y="1565.4" width="129.7" height="69.6" fill="#ededec" stroke="#b2b1ad"/><text font-size="12"><tspan x="3394.1" y="1582.3">pprof</tspan><tspan x="3394.1" y="1596.5">(*protobuf)</tspan><tspan x="3394.1" y="1610.7">string</tspan><tspan x="3394.1" y="1624.9">1.01MB (0.56%)</tspan></text></g>
<g id="N70" class="node"><rect x="3151" y="1826.6" width="173.7" height="80.4" fill="#edebe8" stroke="#b2a794"/><text font-size="15"><tspan x="3237.8" y="1843.8">flate</tspan><tspan x="3237.8" y="1861.1">NewWriter</tspan><tspan x="3237.8" y="1878.4">4.41MB (2.45%)</tspan><tspan x="3237.8" y="1895.7">of 6.14MB (3.42%)</tspan></text></g>
<g id="N72" class="node"><rect x="3265.7" y="2222.4" width="147" height="84.3" fill="#edecec" stroke="#b2b0a9"/><text font-size="12.4"><tspan x="3339.2" y="2238.7">flate</tspan><tspan x="3339.2" y="2253.2">(*compressor)</tspan><tspan x="3339.2" y="2267.6">init</tspan><tspan x="3339.2" y="2282.1">0.64MB (0.35%)</tspan><tspan x="3339.2" y="2296.5">of 1.74MB (0.97%)</tspan></text></g>
<g id="N73" class="node"><rect x="3274.3" y="2394.8" width="129.7" height="54.8" fill="#ededec" stroke="#b2b1ac"/><text font-size="12.4"><tspan x="3339.2" y="2410.6">flate</tspan><tspan x="3339.2" y="2425.1">newDeflateFast</tspan><tspan x="3339.2" y="2439.5">1.10MB (0.61%)</tspan></text></g>

<g id="T1" class="b3"><polygon points="922,1204 927,1199 994,1199 994,1243 989,1248 922,1248"/><path d="M989,1204L922,1204M989,1204L994,1199M989,1204L989,1248"/><text x="956" y="1230">3.12kB</text></g>
<g id="T2" class="b3"><polygon points="665.6,1355.5 670.6,1350.5 737.6,1350.5 737.6,1393 732.6,1398 665.6,1398"/><path d="M732.6,1355.5L665.6,1355.5M732.6,1355.5L737.6,1350.5M732.6,1355.5L732.6,1398"/><text x="699.6" y="1380.5">48B</text></g>
<g id="T3" class="b3"><polygon points="111.6,1847.8 116.6,1842.8 183.6,1842.8 183.6,1886.3 178.6,1891.3 111.6,1891.3"/><path d="M178.6,1847.8L111.6,1847.8M178.6,1847.8L183.6,1842.8M178.6,1847.8L178.6,1891.3"/><text x="145.6" y="1873">896B</text></g>
<g id="T4" class="b3"><polygon points="427.4,2064.6 432.4,2059.6 499.4,2059.6 499.4,2102.6 494.4,2107.6 427.4,2107.6"/><path d="M494.4,2064.6L427.4,2064.6M494.4,2064.6L499.4,2059.6M494.4,2064.6L494.4,2107.6"/><text x="461.4" y="2089.5">16B</text></g>
<g id="T5" class="b3"><polygon points="671.6,1847.8 676.6,1842.8 743.6,1842.8 743.6,1886.3 738.6,1891.3 671.6,1891.3"/><path d="M738.6,1847.8L671.6,1847.8M738.6,1847.8L743.6,1842.8M738.6,1847.8L738.6,1891.3"/><text x="705.6" y="1873">448kB</text></g>
<g id="T6" class="b3"><polygon points="767.7,1847.8 772.7,1842.8 839.3,1842.8 839.3,1886.3 834.3,1891.3 767.7,1891.3"/><path d="M834.3,1847.8L767.7,1847.8M834.3,1847.8L839.3,1842.8M834.3,1847.8L834.3,1891.3"/><text x="801" y="1873">224kB</text></g>
<g id="T7" class="b3"><polygon points="195,2245 200,2240 267.6,2240 267.6,2284 262.6,2289 195,2289"/><path d="M262.6,2245L195,2245M262.6,2245L267.6,2240M262.6,2245L262.6,2289"/><text x="228.8" y="2270.5">16B</text></g>
<g id="T8" class="b3"><polygon points="868,2245 873,2240 940,2240 940,2284 935,2289 868,2289"/><path d="M935,2245L868,2245M935,2245L940,2240M935,2245L935,2289"/><text x="901.5" y="2270.5">8B</text></g>
<g id="T9" class="b3"><polygon points="1136.7,812 1141.7,807 1208.7,807 1208.7,850 1203.7,855 1136.7,855"/><path d="M1203.7,812L1136.7,812M1203.7,812L1208.7,807M1203.7,812L1203.7,855"/><text x="1170.2" y="837">1.90MB</text></g>
<g id="T10" class="b3"><polygon points="1379,812 1384,807 1451,807 1451,850 1446,855 1379,855"/><path d="M1446,812L1379,812M1446,812L1451,807M1446,812L1446,855"/><text x="1412.5" y="837">976kB</text></g>
<g id="T11" class="b3"><polygon points="1564.6,812 1569.6,807 1636.6,807 1636.6,850 1631.6,855 1564.6,855"/><path d="M1631.6,812L1564.6,812M1631.6,812L1636.6,807M1631.6,812L1631.6,855"/><text x="1598.1" y="837">48B</text></g>
<g id="T12" class="b3"><polygon points="1716.7,812 1721.7,807 1788.7,807 1788.7,850 1783.7,855 1716.7,855"/><path d="M1783.7,812L1716.7,812M1783.7,812L1788.7,807M1783.7,812L1783.7,855"/><text x="1750.2" y="837">80kB</text></g>
<g id="T13" class="b3"><polygon points="1878.7,812 1883.7,807 1950.7,807 1950.7,850 1945.7,855 1878.7,855"/><path d="M1945.7,812L1878.7,812M1945.7,812L1950.7,807M1945.7,812L1945.7,855"/><text x="1912.2" y="837">48kB</text></g>
<g id="T14" class="b3"><polygon points="2046,812 2051,807 2118,807 2118,850 2113,855 2046,855"/><path d="M2113,812L2046,812M2113,812L2118,807M2113,812L2113,855"/><text x="2079.5" y="837">288B</text></g>
<g id="T15" class="b3"><polygon points="2371,812 2376,807 2443,807 2443,850 2438,855 2371,855"/><path d="M2438,812L2371,812M2438,812L2443,807M2438,812L2438,855"/><text x="2404.5" y="837">64B</text></g>
<g id="T16" class="b3"><polygon points="2052.7,1205 2057.7,1200 2124.7,1200 2124.7,1242.7 2119.7,1247.7 2052.7,1247.7"/><path d="M2119.7,1205L2052.7,1205M2119.7,1205L2124.7,1200M2119.7,1205L2119.7,1247.7"/><text x="2086.2" y="1230">704B</text></g>
<g id="T17" class="b3"><polygon points="2209,1205 2214,1200 2281,1200 2281,1242.7 2276,1247.7 2209,1247.7"/><path d="M2276,1205L2209,1205M2276,1205L2281,1200M2276,1205L2276,1247.7"/><text x="2242.5" y="1230">2kB</text></g>
<g id="T18" class="b3"><polygon points="2648.5,1205 2653.5,1200 2720.5,1200 2720.5,1242.7 2715.5,1247.7 2648.5,1247.7"/><path d="M2715.5,1205L2648.5,1205M2715.5,1205L2720.5,1200M2715.5,1205L2715.5,1247.7"/><text x="2682" y="1230">8kB</text></g>
<g id="T19" class="b3"><polygon points="2808.5,1205 2813.5,1200 2880.5,1200 2880.5,1242.7 2875.5,1247.7 2808.5,1247.7"/><path d="M2875.5,1205L2808.5,1205M2875.5,1205L2880.5,1200M2875.5,1205L2875.5,1247.7"/><text x="2842" y="1230">24B</text></g>
<g id="T20" class="b3"><polygon points="2958.4,1582 2963.4,1577 3030.4,1577 3030.4,1620 3025.4,1625 2958.4,1625"/><path d="M3025.4,1582L2958.4,1582M3025.4,1582L3030.4,1577M3025.4,1582L3025.4,1625"/><text x="2991.9" y="1607">16B</text></g>
<g id="T21" class="b3"><polygon points="3608.6,461 3613.6,456 3680.6,456 3680.6,499.3 3675.6,504.3 3608.6,504.3"/><path d="M3675.6,461L3608.6,461M3675.6,461L3680.6,456M3675.6,461L3675.6,504.3"/><text x="3642.1" y="486">96B</text></g>
<g id="T22" class="b3"><polygon points="3446,646.3 3451,641.3 3518,641.3 3518,684.5 3513,689.5 3446,689.5"/><path d="M3513,646.3L3446,646.3M3513,646.3L3518,641.3M3513,646.3L3513,689.5"/><text x="3479.5" y="671.5">32kB</text></g>
<g id="T23" class="b3"><polygon points="3100.6,812 3105.6,807 3172.6,807 3172.6,850 3167.6,855 3100.6,855"/><path d="M3167.6,812L3100.6,812M3167.6,812L3172.6,807M3167.6,812L3167.6,855"/><text x="3134.1" y="837">1MB</text></g>
<g id="T24" class="b3"><polygon points="3201.8,2064.7 3206.8,2059.7 3273.8,2059.7 3273.8,2101.8 3268.8,2106.8 3201.8,2106.8"/><path d="M3268.8,2064.7L3201.8,2064.7M3268.8,2064.7L3273.8,2059.7M3268.8,2064.7L3268.8,2106.8"/><text x="3235.3" y="2089">648kB</text></g>
</svg>
